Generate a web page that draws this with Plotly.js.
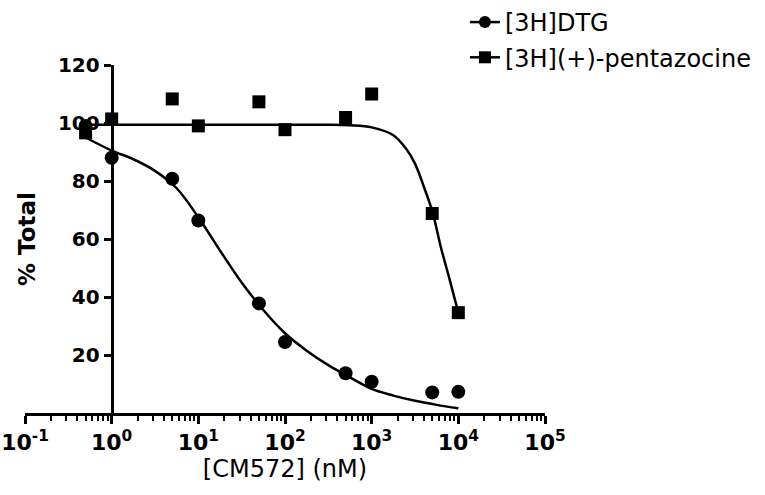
<!DOCTYPE html>
<html>
<head>
<meta charset="utf-8">
<script src="https://cdn.plot.ly/plotly-3.0.1.min.js"></script>
<style>
  body { margin: 0; background: #fff; }
  #chart { width: 765px; height: 495px; }
</style>
</head>
<body>
<div id="chart"></div>
<script>
// measured points, concentration in nM
var conc = [0.5, 1, 5, 10, 50, 100, 500, 1000, 5000, 10000]
var dtg = [99, 88, 80.8, 66.4, 37.8, 24.5, 13.7, 10.8, 7.1, 7.3]
var pentazocine = [96.6, 101.4, 108.3, 99, 107.3, 97.7, 101.9, 110, 68.8, 34.6]

// fitted curves
var dtgFitX = [0.5, 1, 1.78, 3.16, 5.62, 10, 17.8, 31.6, 56.2, 100, 178, 316, 562, 1000, 1778, 3162, 5623, 10000]
var dtgFitY = [95, 90.5, 87.5, 83.5, 77.5, 67.5, 56, 45, 35.5, 27.5, 21.5, 16.5, 12.3, 8.3, 6, 4.2, 2.8, 1.6]
var pentFitX = [0.5, 1, 10, 100, 316, 562, 1000, 1778, 2512, 3162, 3981, 5012, 6310, 7943, 10000]
var pentFitY = [99.4, 99.4, 99.4, 99.4, 99.4, 99.2, 98.5, 95.8, 91, 86, 78.2, 69.5, 57, 46, 34.6]

var seriesNames = ['[3H]DTG', '[3H](+)-pentazocine']

var xTickVals = [0.1, 1, 10, 100, 1000, 10000, 100000]
var xTickText = ['10<sup>-1</sup>', '10<sup>0</sup>', '10<sup>1</sup>', '10<sup>2</sup>',
                 '10<sup>3</sup>', '10<sup>4</sup>', '10<sup>5</sup>']
var yTickVals = [20, 40, 60, 80, 100, 120]

var font = 'DejaVu Sans, Liberation Sans, Arial, sans-serif'

var traces = [
  { x: dtgFitX, y: dtgFitY, mode: 'lines', line: { color: 'black', width: 2.5, shape: 'spline', smoothing: 1 },
    showlegend: false, hoverinfo: 'skip' },
  { x: pentFitX, y: pentFitY, mode: 'lines', line: { color: 'black', width: 2.5, shape: 'spline', smoothing: 1 },
    showlegend: false, hoverinfo: 'skip' },
  { x: conc, y: dtg, mode: 'markers', marker: { symbol: 'circle', size: 14, color: 'black' },
    showlegend: false, cliponaxis: false },
  { x: conc, y: pentazocine, mode: 'markers', marker: { symbol: 'square', size: 13, color: 'black' },
    showlegend: false, cliponaxis: false },
  // legend entries only
  { x: [null], y: [null], name: seriesNames[0], mode: 'lines+markers', legendgroup: 'a',
    line: { color: 'black', width: 2.5 }, marker: { symbol: 'circle', size: 12, color: 'black' } },
  { x: [null], y: [null], name: seriesNames[1], mode: 'lines+markers', legendgroup: 'b',
    line: { color: 'black', width: 2.5 }, marker: { symbol: 'square', size: 12, color: 'black' } }
]

var layout = {
  width: 765,
  height: 495,
  margin: { l: 25, r: 220, t: 65, b: 82, autoexpand: false },
  paper_bgcolor: 'white',
  plot_bgcolor: 'white',
  font: { family: font, color: 'black' },
  xaxis: {
    type: 'log',
    range: [-1, 5],
    tickmode: 'array',
    tickvals: xTickVals,
    ticktext: xTickText,
    ticks: 'outside',
    ticklen: 8,
    tickwidth: 3,
    tickcolor: 'black',
    showline: true,
    linewidth: 3,
    linecolor: 'black',
    showgrid: false,
    zeroline: false,
    tickfont: { family: font, size: 22, weight: 'bold' },
    minor: { ticks: 'outside', ticklen: 5, tickwidth: 2, tickcolor: 'black', dtick: 'D1', showgrid: false },
    title: { text: '[CM572] (nM)', font: { family: font, size: 24 }, standoff: 5 }
  },
  yaxis: {
    range: [0, 120],
    anchor: 'free',
    position: 1 / 6,
    tickmode: 'array',
    tickvals: yTickVals,
    ticks: 'outside',
    ticklen: 7,
    tickwidth: 3,
    tickcolor: 'black',
    showline: true,
    linewidth: 3,
    linecolor: 'black',
    showgrid: false,
    zeroline: false,
    tickfont: { family: font, size: 20, weight: 'bold' },
    title: { text: '% Total', font: { family: font, size: 23, weight: 'bold' }, standoff: 14 }
  },
  showlegend: true,
  legend: {
    x: 0.846,
    xanchor: 'left',
    y: 1.008,
    yref: 'container',
    yanchor: 'top',
    traceorder: 'grouped',
    tracegroupgap: 1,
    font: { family: font, size: 24 },
    bgcolor: 'rgba(0,0,0,0)'
  }
}

Plotly.newPlot('chart', traces, layout, { displayModeBar: false, staticPlot: true })
</script>
</body>
</html>
